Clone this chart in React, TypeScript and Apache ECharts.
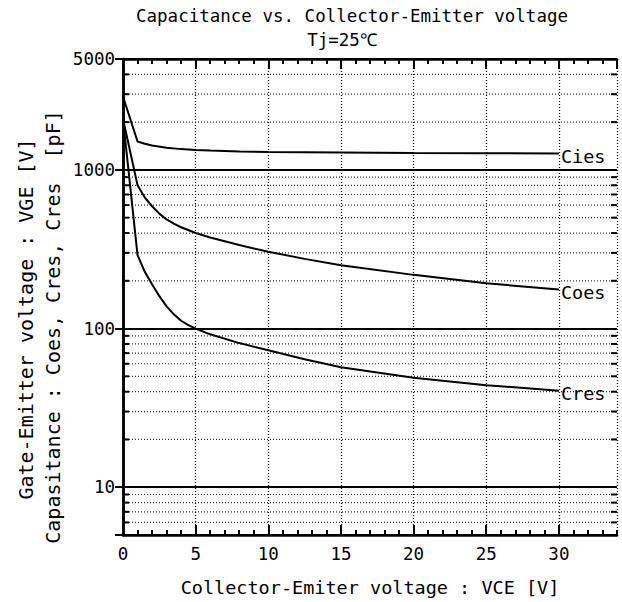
import React, { useEffect, useRef } from "react";
import * as echarts from "echarts";

const titleLines = ["Capacitance vs. Collector-Emitter voltage", "Tj=25℃"];
const xAxisName = "Collector-Emiter voltage : VCE [V]";
const yAxisNames = ["Gate-Emitter voltage : VGE [V]", "Capasitance : Coes, Cres, Cres  [pF]"];

const X_MIN = 0;
const X_MAX = 34;
const Y_MIN = 5;
const Y_MAX = 5000;

const seriesNames = ["Cies", "Coes", "Cres"];
const ciesData = [[0, 2900], [1, 1510], [1.5, 1460], [2, 1425], [3, 1378], [4, 1352], [5, 1337], [6, 1325], [8, 1308], [10, 1298], [15, 1288], [20, 1280], [25, 1275], [30, 1270]];
const coesData = [[0, 2100], [1, 800], [1.5, 670], [2, 590], [2.5, 530], [3, 487], [3.5, 458], [4, 435], [5, 400], [6, 375], [8, 336], [10, 305], [12.5, 275], [15, 251], [20, 218], [25, 193], [30, 176]];
const cresData = [[0, 2100], [1, 290], [1.5, 228], [2, 190], [2.5, 160], [3, 138], [3.5, 123], [4, 112], [4.5, 105], [5, 100], [6, 92], [8, 81], [10, 73], [12.5, 64], [15, 57], [20, 49], [25, 44], [30, 40.5]];

const minorY = [6, 7, 8, 9, 20, 30, 40, 50, 60, 70, 80, 90, 200, 300, 400, 500, 600, 700, 800, 900, 2000, 3000, 4000];

const FONT = "'DejaVu Sans Mono', 'Liberation Mono', monospace";

export default function App() {
  const ref = useRef<HTMLDivElement>(null);
  useEffect(() => {
    if (!ref.current) return;
    const chart = echarts.init(ref.current, undefined, { renderer: "svg" });
    const black = "#000";
    const baseX = {
      type: "value",
      min: X_MIN,
      max: X_MAX,
      splitLine: { show: false },
      axisLabel: { show: false },
      axisLine: { show: false },
    };
    const baseY = {
      type: "log",
      logBase: 10,
      min: Y_MIN,
      max: Y_MAX,
    };
    const lineSeries = [ciesData, coesData, cresData].map((d, i) => ({
      type: "line",
      name: seriesNames[i],
      data: d,
      xAxisIndex: 0,
      yAxisIndex: 0,
      showSymbol: false,
      symbol: "none",
      lineStyle: { color: black, width: 2 },
      z: 5,
      endLabel: {
        show: true,
        formatter: seriesNames[i],
        color: black,
        fontFamily: FONT,
        fontSize: 18.5,
        distance: 2,
        offset: [0, 3],
      },
    }));
    chart.setOption({
      animation: false,
      backgroundColor: "#fff",
      grid: { left: 123, right: 5, top: 59, bottom: 67, containLabel: false },
      xAxis: [
        {
          ...baseX,
          position: "bottom",
          interval: 5,
          axisLine: { show: true, lineStyle: { color: black, width: 2.5 } },
          axisTick: { show: true, inside: true, length: 10, lineStyle: { color: black, width: 2 } },
          axisLabel: {
            show: true,
            color: black,
            fontFamily: FONT,
            fontSize: 17.5,
            margin: 10,
            showMaxLabel: false,
          },
          splitLine: { show: true, lineStyle: { color: "#111", width: 1.3, type: [1, 2] } },
          name: xAxisName,
          nameLocation: "middle",
          nameGap: 43,
          nameTextStyle: { color: black, fontFamily: FONT, fontSize: 18.5 },
        },
        {
          ...baseX,
          position: "top",
          interval: 5,
          axisLine: { show: true, lineStyle: { color: black, width: 2.5 } },
          axisTick: { show: true, inside: true, length: 10, lineStyle: { color: black, width: 2 } },
        },
        {
          ...baseX,
          position: "bottom",
          interval: 1,
          axisTick: { show: true, inside: true, length: 5, lineStyle: { color: black, width: 2 } },
        },
        {
          ...baseX,
          position: "top",
          interval: 1,
          axisTick: { show: true, inside: true, length: 5, lineStyle: { color: black, width: 2 } },
        },
      ],
      yAxis: [
        {
          ...baseY,
          position: "left",
          axisLine: { show: true, lineStyle: { color: black, width: 2.5 } },
          axisTick: { show: true, inside: true, length: 8, lineStyle: { color: black, width: 2 } },
          axisLabel: {
            show: true,
            color: black,
            fontFamily: FONT,
            fontSize: 17.5,
            margin: 8,
            showMinLabel: false,
            formatter: (v: number) => String(Math.round(v)),
          },
          splitLine: { show: true, lineStyle: { color: black, width: 2 } },
        },
        {
          ...baseY,
          position: "right",
          axisLine: { show: true, lineStyle: { color: black, width: 2.5 } },
          axisTick: { show: true, inside: true, length: 8, lineStyle: { color: black, width: 2 } },
          axisLabel: { show: false },
          splitLine: { show: false },
        },
      ],
      series: [
        {
          type: "custom",
          coordinateSystem: "cartesian2d",
          xAxisIndex: 0,
          yAxisIndex: 0,
          silent: true,
          z: 1,
          data: minorY.map((v) => [X_MIN, v]),
          encode: { x: 0, y: 1 },
          renderItem: (_params: any, api: any) => {
            const v = api.value(1);
            const p0 = api.coord([X_MIN, v]);
            const p1 = api.coord([X_MAX, v]);
            return {
              type: "group",
              children: [
                {
                  type: "line",
                  shape: { x1: p0[0], y1: p0[1], x2: p1[0], y2: p1[1] },
                  style: { stroke: "#333", lineWidth: 1.2, lineDash: [1, 2] },
                },
                {
                  type: "line",
                  shape: { x1: p0[0], y1: p0[1], x2: p0[0] + 6, y2: p0[1] },
                  style: { stroke: black, lineWidth: 2 },
                },
                {
                  type: "line",
                  shape: { x1: p1[0] - 6, y1: p1[1], x2: p1[0], y2: p1[1] },
                  style: { stroke: black, lineWidth: 2 },
                },
              ],
            };
          },
        },
        ...lineSeries,
      ],
      graphic: [
        {
          type: "text",
          x: 352,
          y: 16,
          style: { text: titleLines[0], fill: black, fontFamily: FONT, fontSize: 17.5, align: "center", verticalAlign: "middle" },
        },
        {
          type: "text",
          x: 342,
          y: 40,
          style: { text: titleLines[1], fill: black, fontFamily: FONT, fontSize: 17.5, align: "center", verticalAlign: "middle" },
        },
        {
          type: "text",
          x: 26,
          y: 319,
          rotation: Math.PI / 2,
          style: { text: yAxisNames[0], fill: black, fontFamily: FONT, fontSize: 20, align: "center", verticalAlign: "middle" },
        },
        {
          type: "text",
          x: 53,
          y: 327,
          rotation: Math.PI / 2,
          style: { text: yAxisNames[1], fill: black, fontFamily: FONT, fontSize: 20, align: "center", verticalAlign: "middle" },
        },
      ],
    });
    return () => chart.dispose();
  }, []);
  return (
    <div
      ref={ref}
      style={{ position: "fixed", left: 0, top: 0, width: 622, height: 602, background: "#fff" }}
    />
  );
}
